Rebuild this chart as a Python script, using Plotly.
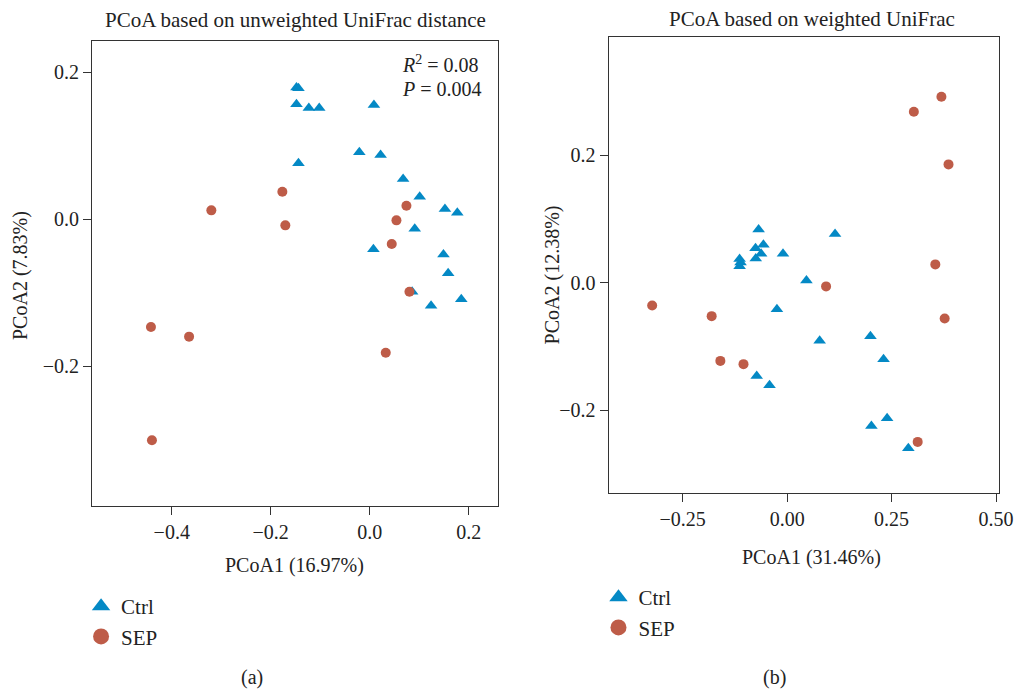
import plotly.graph_objects as go

# ---- data: panel (a) unweighted UniFrac ----
a_ctrl_x = [-0.148, -0.144, -0.148, -0.123, -0.102, 0.0085, -0.144, -0.021, 0.022, 0.0675,
            0.101, 0.152, 0.177, 0.091, 0.0075, 0.149, 0.1585, 0.0857, 0.124, 0.185]
a_ctrl_y = [0.179, 0.178, 0.156, 0.151, 0.151, 0.155, 0.0758, 0.0907, 0.0871, 0.0544,
            0.0303, 0.0136, 0.0086, -0.0132, -0.0412, -0.0483, -0.0739, -0.0989, -0.118, -0.109]
a_sep_x = [-0.1765, -0.320, -0.1705, 0.0742, 0.054, 0.0445, 0.0803, -0.442, -0.365, 0.0324, -0.440]
a_sep_y = [0.0371, 0.0118, -0.0086, 0.0181, -0.0018, -0.034, -0.0989, -0.147, -0.160, -0.182, -0.301]

# ---- data: panel (b) weighted UniFrac ----
b_ctrl_x = [-0.0683, 0.1147, -0.0757, -0.0568, -0.0623, -0.0099, -0.0752, -0.1138, -0.1138, -0.1115,
            0.0462, -0.0245, 0.0778, 0.1994, 0.2308, -0.0729, -0.0422, 0.2017, 0.2393, 0.2901]
b_ctrl_y = [0.0838, 0.0764, 0.0544, 0.0599, 0.0455, 0.0455, 0.0380, 0.0372, 0.0262, 0.0317,
            0.0035, -0.0413, -0.0907, -0.0836, -0.1197, -0.1459, -0.1605, -0.2243, -0.2122, -0.2593]
b_sep_x = [0.3033, 0.3693, 0.3863, 0.3547, 0.0932, -0.3231, -0.1807, 0.3771, -0.1599, -0.1045, 0.3125]
b_sep_y = [0.2682, 0.2918, 0.1857, 0.0289, -0.0056, -0.0355, -0.0522, -0.0558, -0.1224, -0.1275, -0.2494]

groups = ["Ctrl", "SEP"]
a_xticks = [-0.4, -0.2, 0.0, 0.2]
a_yticks = [-0.2, 0.0, 0.2]
b_xticks = [-0.25, 0.0, 0.25, 0.5]
b_yticks = [-0.2, 0.0, 0.2]

BLUE = "#0489C5"
RED = "#BE5C48"
TXT = "#222222"
FONT = "Liberation Serif"
W, H = 1017, 691
SC = 1017 / 1032   # observed horizontal squeeze of the rendered page


def px(x):
    return min(x / SC, W) / W


def py(y):
    return 1 - y / H


fig = go.Figure()


def add_panel(cx, cy, sx, sy, xa, ya, legend):
    fig.add_trace(go.Scatter(x=cx, y=cy, mode="markers", xaxis=xa, yaxis=ya, showlegend=False,
                             marker=dict(symbol="triangle-up", size=11, color=BLUE), name=groups[0]))
    fig.add_trace(go.Scatter(x=sx, y=sy, mode="markers", xaxis=xa, yaxis=ya, showlegend=False,
                             marker=dict(symbol="circle", size=10, color=RED), name=groups[1]))
    # legend entries (larger symbols, as in the reference)
    fig.add_trace(go.Scatter(x=[None], y=[None], mode="markers", xaxis=xa, yaxis=ya, legend=legend,
                             marker=dict(symbol="triangle-up", size=16, color=BLUE), name=groups[0]))
    fig.add_trace(go.Scatter(x=[None], y=[None], mode="markers", xaxis=xa, yaxis=ya, legend=legend,
                             marker=dict(symbol="circle", size=16, color=RED), name=groups[1]))


add_panel(a_ctrl_x, a_ctrl_y, a_sep_x, a_sep_y, "x", "y", "legend")
add_panel(b_ctrl_x, b_ctrl_y, b_sep_x, b_sep_y, "x2", "y2", "legend2")

axis_common = dict(showgrid=False, zeroline=False, showline=True, linecolor="#333333", linewidth=1.3,
                   mirror=True, ticks="outside", ticklen=8, tickcolor="#333333", tickwidth=1.3,
                   tickfont=dict(family=FONT, size=20, color=TXT), ticklabeloverflow="allow")

fig.update_layout(
    width=W, height=H, autosize=False, margin=dict(l=0, r=0, t=0, b=0),
    paper_bgcolor="white", plot_bgcolor="white",
    font=dict(family=FONT, color=TXT),
    xaxis=dict(domain=[px(92), px(498)], range=[-0.561, 0.260], tickvals=a_xticks, tickformat=".1f",
               anchor="y", **axis_common),
    yaxis=dict(domain=[py(505.7), py(40.7)], range=[-0.390, 0.2426], tickvals=a_yticks, tickformat=".1f",
               anchor="x", **axis_common),
    xaxis2=dict(domain=[px(608.3), 1013.3 / W], range=[-0.427, 0.508], tickvals=b_xticks, tickformat=".2f",
                anchor="y2", **axis_common),
    yaxis2=dict(domain=[py(493.3), py(37.3)], range=[-0.330, 0.385], tickvals=b_yticks, tickformat=".1f",
                anchor="x2", **axis_common),
    legend=dict(x=px(81), y=py(586), xanchor="left", yanchor="top", font=dict(family=FONT, size=21, color=TXT),
                bgcolor="rgba(0,0,0,0)", itemsizing="trace"),
    legend2=dict(x=px(598), y=py(577), xanchor="left", yanchor="top", font=dict(family=FONT, size=21, color=TXT),
                 bgcolor="rgba(0,0,0,0)", itemsizing="trace"),
)


def ann(text, x, y, size, xanchor="center", angle=0):
    fig.add_annotation(text=text, x=px(x), y=py(y), xref="paper", yref="paper", showarrow=False,
                       xanchor=xanchor, yanchor="middle", textangle=angle,
                       font=dict(family=FONT, size=size, color=TXT))


ann("PCoA based on unweighted UniFrac distance", 295, 20, 21)
ann("PCoA based on weighted UniFrac", 811, 19, 21)
ann("<i>R</i><sup>2</sup> = 0.08", 400, 64, 20, xanchor="left")
ann("<i>P</i> = 0.004", 400, 89, 20, xanchor="left")
ann("PCoA1 (16.97%)", 294, 565, 20)
ann("PCoA1 (31.46%)", 811, 557, 20)
ann("PCoA2 (7.83%)", 20, 276, 20, angle=-90)
ann("PCoA2 (12.38%)", 552, 275, 20, angle=-90)
ann("(a)", 252, 677, 20)
ann("(b)", 774, 677, 20)

# remove the default page margin so the figure sits at the window's top-left corner
fig.write_html("out.html",
               config={"responsive": False, "displayModeBar": False},
               post_script="document.body.style.margin='0';document.body.style.overflow='hidden';")
